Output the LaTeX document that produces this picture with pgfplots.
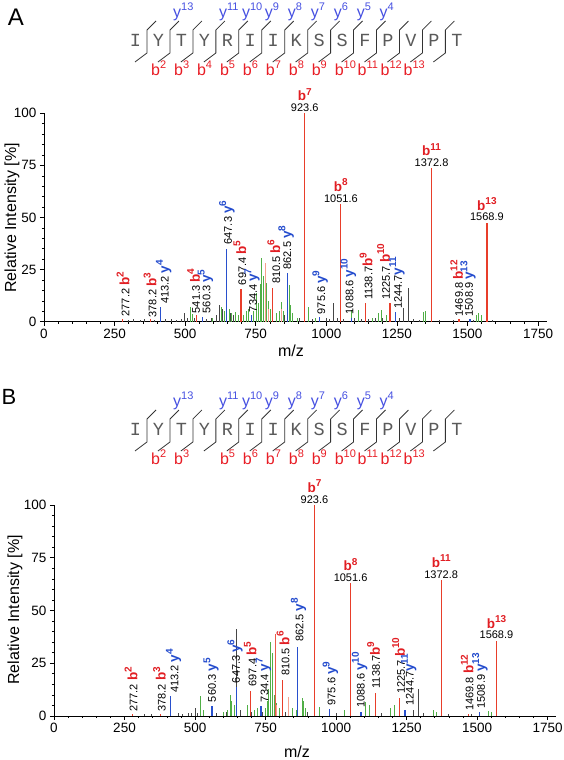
\documentclass[border=0pt]{standalone}
\usepackage{fontspec}
\setmainfont{Liberation Sans}
\newfontfamily\monofam{Liberation Mono}
\usepackage{graphicx}
\usepackage{pgfplots}
\pgfplotsset{compat=1.18}

\definecolor{pkred}{RGB}{232,62,42}
\definecolor{pkblue}{RGB}{40,80,205}
\definecolor{pkgreen}{RGB}{80,175,70}
\definecolor{pksalmon}{RGB}{245,160,140}
\definecolor{pkgray}{RGB}{70,70,70}
\definecolor{lblred}{RGB}{225,30,35}
\definecolor{lblblue}{RGB}{35,75,205}
\definecolor{seqred}{RGB}{232,30,38}
\definecolor{seqblue}{RGB}{70,80,225}
\definecolor{seqgray}{RGB}{90,90,90}

\newcommand\numfont{\fontsize{11}{12}\selectfont}
\newcommand\ionfont{\fontsize{13.5}{14}\selectfont\bfseries}
\newcommand\seqfnt{\monofam\fontsize{18.5}{18}\selectfont}
\newcommand\seqlabfnt{\fontsize{16}{16}\selectfont}
\newcommand\axlabfont{\fontsize{16}{17}\selectfont}
\newcommand\sups[1]{\raisebox{0.42em}{\fontsize{10}{10}\selectfont #1}}
\newcommand\ssups[1]{\raisebox{0.42em}{\fontsize{11}{11}\selectfont #1}}

% rotated peak label: mz, ystart, number, separator, ion, superscript, colour
\newcommand{\vlab}[7]{\node[rotate=90,anchor=west,inner sep=0pt] at (axis cs:#1,#2) {\numfont #3#4{\ionfont\color{#7}#5\sups{#6}}};}
% top label: mz, height, number, superscript
\newcommand{\tlab}[4]{%
\node[anchor=south,inner sep=0pt] at (axis cs:#1,#2) [yshift=1.5pt] {\numfont #3};
\node[anchor=south,inner sep=0pt] at (axis cs:#1,#2) [yshift=12pt] {\ionfont\color{lblred}b\sups{#4}};}

\newcommand{\seqdiag}[2]{%
 \foreach \L [count=\i] in {I,Y,T,Y,R,I,I,K,S,S,F,P,V,P,T} {\node[font=\seqfnt, text=seqgray, inner sep=0pt] at ({135.5+22.95*(\i-1)},{#1+40}) {\L};}
 \foreach \i in {1,...,14} {\draw[black!80, line width=0.8pt] ({147+22.95*(\i-1)-12},{#1+62}) -- ++(12,-9) -- ++(0,-23) -- ++(9,-9);}
 \foreach \i/\n in {2/13,4/11,5/10,6/9,7/8,8/7,9/6,10/5,11/4} {\node[anchor=west, inner sep=0pt, font=\seqlabfnt, text=seqblue] at ({147+22.95*(\i-1)+3},{#1+12}) {y\ssups{\n}};}
 \foreach \i in {#2} {\node[anchor=west, inner sep=0pt, font=\seqlabfnt, text=seqred] at ({147+22.95*(\i-1)-19},{#1+68}) {b\ssups{\i}};}
}

\pgfplotsset{
 msstyle/.style={
  anchor=south west, scale only axis,
  xmin=0, xmax=1780, ymin=0, ymax=100,
  axis x line=bottom, axis y line=left, axis line style={-, line width=0.8pt},
  xtick={0,250,...,1750}, ytick={0,25,...,100},
  minor x tick num=4, minor y tick num=4,
  tick align=outside, major tick length=4pt, minor tick length=2.2pt,
  tick style={black, line width=0.6pt},
  ticklabel style={font=\fontsize{13.5}{15}\selectfont},
  /pgf/number format/assume math mode=true, /pgf/number format/1000 sep={},
  clip=false,
 },
 noise/.style={ycomb, mark=none, line width=0.8pt},
 main/.style={ycomb, mark=none, line width=1.25pt},
}

\begin{document}
\begin{tikzpicture}
\useasboundingbox (0,0) rectangle (563pt,760pt);

% ================= Panel A =================
\begin{axis}[msstyle, at={(44pt,438.3pt)}, width=502.5pt, height=208.4pt]
\addplot[noise, draw=pkgray] coordinates {
(300,1) (318,1.5) (340,1) (356,1.5) (392,1) (430,1.2) (452,1.5) (470,1) (488,1.5)
(499,4.3) (508,2) (532,2) (575,1.5) (593,2) (610,3) (623,8) (633,6) (645,3) (660,4)
(671,3) (700,2) (760,3) (850,3) (905,2) (950,1.5) (1000,2) (1012,1.5) (1024,8.8)
(1040,2) (1060,1.5) (1100,2) (1125,1.5) (1150,1.5) (1175,2) (1200,2) (1260,2)
(1272,6.5) (1291,16) (1310,1.5) (1330,1) (1400,1) (1450,1) (1520,1) (1590,1)};
\addplot[noise, draw=pkgreen] coordinates {
(517,7) (525,3.5) (597,2) (628,7) (638,5) (655,6) (664,4) (678,4.5) (688,3) (706,3)
(716,5) (724,6) (742,5) (753,14) (759,9) (765,18) (771,30.4) (777,22) (789,18.5)
(796,10) (803,6) (822,4) (835,5) (842,9.6) (848,5) (869,17.6) (874,8) (880,4)
(898,2) (936,7) (960,2) (1090,5.6) (1113,5.6) (1165,2) (1183,4) (1196,5.6)
(1212,3) (1343,4.8) (1352,5) (1530,3) (1537,4) (1549,3)};
\addplot[noise, draw=pksalmon] coordinates {(783,28) (795,6) (840,6)};
\addplot[main, draw=pkblue] coordinates {
(413.2,6.9) (560.3,2.4) (647.3,34.9) (734.4,3.2) (862.5,23.2) (975.6,2.2)
(1088.6,2.0) (1244.7,4.8) (1508.9,1.2)};
\addplot[main, draw=pkred] coordinates {
(277.2,1.5) (378.2,1.2) (541.3,3.0) (697.4,15.5) (810.5,16) (923.6,100)
(1051.6,56.5) (1138.7,8.8) (1225.7,9) (1372.8,73.6) (1469.8,1.5) (1568.9,47.5)};

\vlab{280}{2.5}{277.2}{ }{b}{2}{lblred}
\vlab{376}{2}{378.2}{ }{b}{3}{lblred}
\vlab{424}{8.5}{413.2}{ }{y}{4}{lblblue}
\vlab{530}{4}{541.3}{ }{b}{4}{lblred}
\vlab{572}{4}{560.3}{ }{y}{5}{lblblue}
\vlab{648}{37}{647.3}{ }{y}{6}{lblblue}
\vlab{694}{17.5}{697.4}{ }{b}{5}{lblred}
\vlab{737}{4.5}{734.4}{ }{y}{7}{lblblue}
\vlab{814}{18}{810.5}{ }{b}{6}{lblred}
\vlab{858}{25}{862.5}{ }{y}{8}{lblblue}
\vlab{978}{3.5}{975.6}{ }{y}{9}{lblblue}
\vlab{1078}{3.5}{1088.6}{ }{y}{10}{lblblue}
\vlab{1141}{10.5}{1138.7}{}{b}{9}{lblred}
\vlab{1203}{10.5}{1225.7}{ }{b}{10}{lblred}
\vlab{1250}{6}{1244.7}{}{y}{11}{lblblue}
\vlab{1462}{2.5}{1469.8}{ }{b}{12}{lblred}
\vlab{1502}{2.5}{1508.9}{ }{y}{13}{lblblue}
\tlab{923.6}{100}{923.6}{7}
\tlab{1051.6}{56.5}{1051.6}{8}
\tlab{1372.8}{73.6}{1372.8}{11}
\tlab{1568.9}{47.5}{1568.9}{13}
\end{axis}

% ================= Panel B =================
\begin{axis}[msstyle, at={(54pt,44pt)}, width=502pt, height=211pt]
\addplot[noise, draw=pkgray] coordinates {
(320,1) (345,1) (440,1.5) (455,1) (475,1.5) (487,1.5) (500.5,4) (510,1.5) (575,1.5)
(610,2) (646,41) (660,3) (700,2) (740,2) (820,2) (900,2) (1000,1.5) (1160,1.5)
(1273,2.7) (1291,12.6) (1310,1.5) (1400,1) (1480,1)};
\addplot[noise, draw=pkgreen] coordinates {
(518,9.5) (528,3) (600,2) (615,3) (625,10) (630,7) (640,5) (684,5) (695,3) (712,3)
(722,4) (748,4) (755,7) (761,13) (769,35) (775,30) (780,10) (790,6) (800,4) (846,4)
(860,3) (879,8.5) (884,7) (890,4) (942,4.4) (1030,2.8) (1104,6.8) (1119,5)
(1193,3.6) (1207,5) (1347,3) (1355,2) (1542,2.5) (1550,2)};
\addplot[noise, draw=pksalmon] coordinates {(832,9) (790,5)};
\addplot[main, draw=pkred!85!white, line width=0.9pt] coordinates {(784,39)};
\addplot[main, draw=pkblue] coordinates {
(413.2,9.5) (560.3,4.7) (647.3,13.9) (734.4,4.7) (862.5,32.8) (975.6,3.2)
(1088.6,2) (1244.7,3) (1508.9,2)};
\addplot[main, draw=pkred] coordinates {
(277.2,1) (378.2,1) (697.4,12) (810.5,17) (923.6,100) (1051.6,63) (1138.7,11)
(1225.7,8.4) (1372.8,64.5) (1469.8,1) (1568.9,35.7)};

\vlab{273}{2}{277.2}{ }{b}{2}{lblred}
\vlab{374}{2}{378.2}{ }{b}{3}{lblred}
\vlab{424}{11}{413.2}{ }{y}{4}{lblblue}
\vlab{557}{6.5}{560.3}{ }{y}{5}{lblblue}
\vlab{642}{15.5}{647.3}{ }{y}{6}{lblblue}
\vlab{696}{14}{697.4}{ }{b}{5}{lblred}
\vlab{743}{6.5}{734.4}{ }{y}{7}{lblblue}
\vlab{812}{19}{810.5}{ }{b}{6}{lblred}
\vlab{867}{35}{862.5}{ }{y}{8}{lblblue}
\vlab{980}{5}{975.6}{ }{y}{9}{lblblue}
\vlab{1084}{4}{1088.6}{ }{y}{10}{lblblue}
\vlab{1133}{13}{1138.7}{}{b}{9}{lblred}
\vlab{1222}{10.5}{1225.7}{ }{b}{10}{lblred}
\vlab{1258}{5}{1244.7}{}{y}{11}{lblblue}
\vlab{1465}{2.5}{1469.8}{ }{b}{12}{lblred}
\vlab{1510}{3.5}{1508.9}{ }{y}{13}{lblblue}
\tlab{923.6}{100}{923.6}{7}
\tlab{1051.6}{63}{1051.6}{8}
\tlab{1372.8}{64.5}{1372.8}{11}
\tlab{1568.9}{35.7}{1568.9}{13}
\end{axis}

% ================= annotations in image coordinates =================
\begin{scope}[shift={(0pt,760pt)}, x=1pt, y=-1pt]
\node[font=\fontsize{24}{24}\selectfont, inner sep=0pt] at (16,17) {A};
\node[font=\fontsize{22}{22}\selectfont, inner sep=0pt] at (9,397) {B};
\seqdiag{0}{2,3,4,5,6,7,8,9,10,11,12,13}
\seqdiag{389}{2,3,5,6,7,8,9,10,11,12,13}
\node[rotate=90, font=\axlabfont, inner sep=0pt] at (12,218) {Relative Intensity [\%]};
\node[font=\axlabfont, inner sep=0pt] at (291,351) {m/z};
\node[rotate=90, font=\axlabfont, inner sep=0pt] at (15,610) {Relative Intensity [\%]};
\node[font=\axlabfont, inner sep=0pt] at (297,752) {m/z};
\end{scope}
\end{tikzpicture}
\end{document}
